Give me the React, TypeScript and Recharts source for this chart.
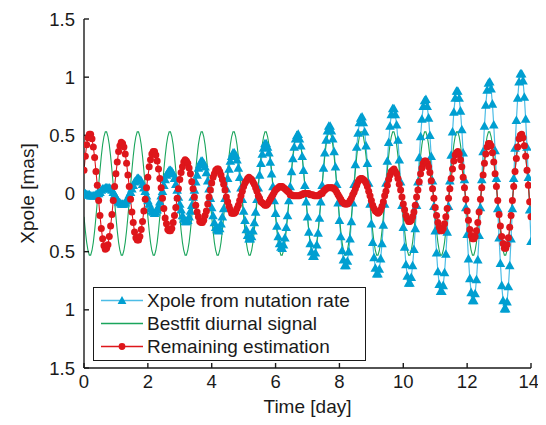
import { LineChart, Line, XAxis, YAxis, Legend, Label } from "recharts";

const FONT = '"Liberation Sans", Arial, Helvetica, sans-serif';
const INK = "#1a1a1a";

// time axis: hourly samples over 14 days
const SAMPLES_PER_DAY = 24;
const X_TICKS = [0, 2, 4, 6, 8, 10, 12, 14];
const Y_TICKS = [-1.5, -1, -0.5, 0, 0.5, 1, 1.5];
const LEGEND_ORDER = ["xpole", "bestfit", "remaining"];

// Xpole from nutation rate [mas], one row per day
const xpoleNutation = [
  0, 0, -0.01, -0.01, -0.01, -0.02, -0.02, -0.02, -0.02, -0.01, 0, 0, 0.01, 0.03, 0.04, 0.04, 0.05, 0.05, 0.05, 0.05, 0.04, 0.03, 0.01, -0.01,
  -0.03, -0.05, -0.07, -0.08, -0.09, -0.09, -0.09, -0.08, -0.06, -0.04, -0.01, 0.01, 0.04, 0.07, 0.1, 0.11, 0.13, 0.13, 0.12, 0.11, 0.08, 0.05, 0.02, -0.02,
  -0.06, -0.09, -0.13, -0.15, -0.16, -0.17, -0.16, -0.14, -0.11, -0.07, -0.02, 0.02, 0.07, 0.12, 0.16, 0.18, 0.2, 0.2, 0.19, 0.17, 0.13, 0.08, 0.03, -0.03,
  -0.09, -0.14, -0.19, -0.22, -0.24, -0.24, -0.23, -0.2, -0.15, -0.1, -0.03, 0.03, 0.1, 0.16, 0.22, 0.25, 0.28, 0.28, 0.26, 0.23, 0.18, 0.11, 0.04, -0.04,
  -0.12, -0.19, -0.25, -0.29, -0.31, -0.32, -0.3, -0.26, -0.2, -0.13, -0.04, 0.04, 0.13, 0.21, 0.28, 0.32, 0.35, 0.35, 0.33, 0.29, 0.22, 0.14, 0.05, -0.05,
  -0.15, -0.23, -0.31, -0.36, -0.39, -0.39, -0.37, -0.32, -0.25, -0.16, -0.05, 0.05, 0.16, 0.26, 0.34, 0.39, 0.43, 0.43, 0.4, 0.35, 0.27, 0.17, 0.06, -0.06,
  -0.17, -0.28, -0.37, -0.43, -0.46, -0.47, -0.44, -0.38, -0.29, -0.19, -0.06, 0.06, 0.19, 0.3, 0.4, 0.47, 0.5, 0.51, 0.47, 0.41, 0.32, 0.2, 0.07, -0.07,
  -0.2, -0.33, -0.43, -0.5, -0.54, -0.54, -0.51, -0.44, -0.34, -0.21, -0.07, 0.07, 0.22, 0.35, 0.46, 0.54, 0.58, 0.58, 0.54, 0.47, 0.36, 0.23, 0.08, -0.08,
  -0.23, -0.37, -0.49, -0.57, -0.62, -0.62, -0.58, -0.5, -0.39, -0.24, -0.08, 0.08, 0.25, 0.4, 0.52, 0.61, 0.65, 0.66, 0.61, 0.53, 0.41, 0.26, 0.09, -0.09,
  -0.26, -0.42, -0.55, -0.64, -0.69, -0.69, -0.65, -0.56, -0.43, -0.27, -0.09, 0.09, 0.28, 0.44, 0.58, 0.68, 0.73, 0.73, 0.68, 0.59, 0.46, 0.29, 0.1, -0.1,
  -0.29, -0.46, -0.61, -0.71, -0.77, -0.77, -0.72, -0.62, -0.48, -0.3, -0.1, 0.1, 0.31, 0.49, 0.64, 0.75, 0.8, 0.81, 0.75, 0.65, 0.5, 0.32, 0.11, -0.11,
  -0.32, -0.51, -0.67, -0.78, -0.84, -0.84, -0.79, -0.68, -0.52, -0.33, -0.11, 0.11, 0.33, 0.53, 0.7, 0.82, 0.88, 0.88, 0.82, 0.71, 0.55, 0.35, 0.12, -0.12,
  -0.35, -0.56, -0.73, -0.85, -0.92, -0.92, -0.86, -0.74, -0.57, -0.36, -0.12, 0.12, 0.36, 0.58, 0.76, 0.89, 0.95, 0.96, 0.9, 0.77, 0.59, 0.37, 0.13, -0.13,
  -0.38, -0.6, -0.79, -0.92, -0.99, -0.99, -0.93, -0.8, -0.62, -0.39, -0.13, 0.13, 0.39, 0.63, 0.82, 0.96, 1.03, 1.03, 0.97, 0.83, 0.64, 0.4, 0.14, -0.14,
  -0.41,
];

// Bestfit diurnal signal [mas]
const bestfitDiurnal = [
  -0.2, -0.32, -0.42, -0.49, -0.53, -0.53, -0.49, -0.42, -0.32, -0.2, -0.07, 0.07, 0.2, 0.32, 0.42, 0.49, 0.53, 0.53, 0.49, 0.42, 0.32, 0.2, 0.07, -0.07,
  -0.2, -0.32, -0.42, -0.49, -0.53, -0.53, -0.49, -0.42, -0.32, -0.2, -0.07, 0.07, 0.2, 0.32, 0.42, 0.49, 0.53, 0.53, 0.49, 0.42, 0.32, 0.2, 0.07, -0.07,
  -0.2, -0.32, -0.42, -0.49, -0.53, -0.53, -0.49, -0.42, -0.32, -0.2, -0.07, 0.07, 0.2, 0.32, 0.42, 0.49, 0.53, 0.53, 0.49, 0.42, 0.32, 0.2, 0.07, -0.07,
  -0.2, -0.32, -0.42, -0.49, -0.53, -0.53, -0.49, -0.42, -0.32, -0.2, -0.07, 0.07, 0.2, 0.32, 0.42, 0.49, 0.53, 0.53, 0.49, 0.42, 0.32, 0.2, 0.07, -0.07,
  -0.2, -0.32, -0.42, -0.49, -0.53, -0.53, -0.49, -0.42, -0.32, -0.2, -0.07, 0.07, 0.2, 0.32, 0.42, 0.49, 0.53, 0.53, 0.49, 0.42, 0.32, 0.2, 0.07, -0.07,
  -0.2, -0.32, -0.42, -0.49, -0.53, -0.53, -0.49, -0.42, -0.32, -0.2, -0.07, 0.07, 0.2, 0.32, 0.42, 0.49, 0.53, 0.53, 0.49, 0.42, 0.32, 0.2, 0.07, -0.07,
  -0.2, -0.32, -0.42, -0.49, -0.53, -0.53, -0.49, -0.42, -0.32, -0.2, -0.07, 0.07, 0.2, 0.32, 0.42, 0.49, 0.53, 0.53, 0.49, 0.42, 0.32, 0.2, 0.07, -0.07,
  -0.2, -0.32, -0.42, -0.49, -0.53, -0.53, -0.49, -0.42, -0.32, -0.2, -0.07, 0.07, 0.2, 0.32, 0.42, 0.49, 0.53, 0.53, 0.49, 0.42, 0.32, 0.2, 0.07, -0.07,
  -0.2, -0.32, -0.42, -0.49, -0.53, -0.53, -0.49, -0.42, -0.32, -0.2, -0.07, 0.07, 0.2, 0.32, 0.42, 0.49, 0.53, 0.53, 0.49, 0.42, 0.32, 0.2, 0.07, -0.07,
  -0.2, -0.32, -0.42, -0.49, -0.53, -0.53, -0.49, -0.42, -0.32, -0.2, -0.07, 0.07, 0.2, 0.32, 0.42, 0.49, 0.53, 0.53, 0.49, 0.42, 0.32, 0.2, 0.07, -0.07,
  -0.2, -0.32, -0.42, -0.49, -0.53, -0.53, -0.49, -0.42, -0.32, -0.2, -0.07, 0.07, 0.2, 0.32, 0.42, 0.49, 0.53, 0.53, 0.49, 0.42, 0.32, 0.2, 0.07, -0.07,
  -0.2, -0.32, -0.42, -0.49, -0.53, -0.53, -0.49, -0.42, -0.32, -0.2, -0.07, 0.07, 0.2, 0.32, 0.42, 0.49, 0.53, 0.53, 0.49, 0.42, 0.32, 0.2, 0.07, -0.07,
  -0.2, -0.32, -0.42, -0.49, -0.53, -0.53, -0.49, -0.42, -0.32, -0.2, -0.07, 0.07, 0.2, 0.32, 0.42, 0.49, 0.53, 0.53, 0.49, 0.42, 0.32, 0.2, 0.07, -0.07,
  -0.2, -0.32, -0.42, -0.49, -0.53, -0.53, -0.49, -0.42, -0.32, -0.2, -0.07, 0.07, 0.2, 0.32, 0.42, 0.49, 0.53, 0.53, 0.49, 0.42, 0.32, 0.2, 0.07, -0.07,
  -0.2,
];

// Remaining estimation [mas]
const remainingEstimation = [
  0.2, 0.32, 0.42, 0.48, 0.51, 0.51, 0.47, 0.4, 0.31, 0.19, 0.07, -0.06, -0.19, -0.3, -0.39, -0.45, -0.48, -0.47, -0.44, -0.37, -0.28, -0.18, -0.06, 0.06,
  0.17, 0.27, 0.36, 0.41, 0.44, 0.43, 0.4, 0.34, 0.26, 0.16, 0.06, -0.05, -0.16, -0.25, -0.33, -0.38, -0.4, -0.4, -0.37, -0.31, -0.24, -0.15, -0.05, 0.05,
  0.14, 0.23, 0.29, 0.34, 0.36, 0.36, 0.33, 0.28, 0.21, 0.13, 0.05, -0.04, -0.13, -0.21, -0.26, -0.31, -0.32, -0.32, -0.3, -0.25, -0.19, -0.12, -0.04, 0.04,
  0.12, 0.18, 0.23, 0.27, 0.29, 0.28, 0.26, 0.22, 0.17, 0.1, 0.04, -0.03, -0.1, -0.16, -0.2, -0.24, -0.25, -0.25, -0.23, -0.19, -0.15, -0.09, -0.03, 0.03,
  0.09, 0.14, 0.17, 0.2, 0.21, 0.21, 0.19, 0.16, 0.12, 0.08, 0.03, -0.03, -0.07, -0.11, -0.14, -0.17, -0.17, -0.17, -0.16, -0.13, -0.1, -0.06, -0.02, 0.02,
  0.06, 0.09, 0.11, 0.13, 0.14, 0.13, 0.12, 0.1, 0.08, 0.05, 0.02, -0.02, -0.04, -0.07, -0.08, -0.09, -0.1, -0.1, -0.09, -0.07, -0.05, -0.03, -0.01, 0.01,
  0.03, 0.04, 0.05, 0.06, 0.06, 0.06, 0.05, 0.04, 0.03, 0.02, 0.01, -0.01, -0.01, -0.02, -0.02, -0.02, -0.02, -0.02, -0.02, -0.01, -0.01, 0, 0, 0,
  0, 0, -0.01, -0.01, -0.01, -0.02, -0.02, -0.02, -0.02, -0.01, 0, 0, 0.02, 0.03, 0.04, 0.05, 0.05, 0.05, 0.05, 0.05, 0.04, 0.03, 0.01, -0.01,
  -0.03, -0.05, -0.07, -0.08, -0.09, -0.09, -0.09, -0.08, -0.06, -0.04, -0.01, 0.01, 0.04, 0.07, 0.1, 0.12, 0.13, 0.13, 0.12, 0.11, 0.09, 0.06, 0.02, -0.02,
  -0.06, -0.1, -0.13, -0.15, -0.16, -0.17, -0.16, -0.14, -0.11, -0.07, -0.02, 0.02, 0.07, 0.12, 0.16, 0.19, 0.2, 0.21, 0.19, 0.17, 0.13, 0.08, 0.03, -0.03,
  -0.09, -0.14, -0.19, -0.22, -0.24, -0.24, -0.23, -0.2, -0.16, -0.1, -0.03, 0.03, 0.1, 0.17, 0.22, 0.26, 0.28, 0.28, 0.26, 0.23, 0.18, 0.11, 0.04, -0.04,
  -0.12, -0.19, -0.25, -0.29, -0.32, -0.32, -0.3, -0.26, -0.2, -0.13, -0.04, 0.04, 0.13, 0.21, 0.28, 0.33, 0.35, 0.36, 0.34, 0.29, 0.23, 0.14, 0.05, -0.05,
  -0.15, -0.23, -0.31, -0.36, -0.39, -0.39, -0.37, -0.32, -0.25, -0.16, -0.05, 0.05, 0.16, 0.26, 0.34, 0.4, 0.43, 0.43, 0.41, 0.35, 0.27, 0.17, 0.06, -0.06,
  -0.18, -0.28, -0.37, -0.43, -0.47, -0.47, -0.44, -0.38, -0.29, -0.19, -0.06, 0.06, 0.19, 0.3, 0.4, 0.47, 0.5, 0.51, 0.48, 0.41, 0.32, 0.2, 0.07, -0.07,
  -0.2,
];

const BLUE_LINE = "#4dbde6";
const BLUE_MARK = "#009fd1";
const GREEN = "#1aa55c";
const RED = "#de161b";

const data = xpoleNutation.map((v, i) => ({
  t: i / SAMPLES_PER_DAY,
  xpole: v,
  bestfit: bestfitDiurnal[i],
  remaining: remainingEstimation[i],
}));

function Triangle({ cx, cy, size, color }: any) {
  return (
    <polygon
      points={`${cx},${cy - size} ${cx - size},${cy + size * 0.78} ${cx + size},${cy + size * 0.78}`}
      fill={color}
    />
  );
}

function TriangleDot(props: any) {
  const { cx, cy, index } = props;
  if (cx == null || cy == null) return <g key={index} />;
  return (
    <g key={index}>
      <Triangle cx={cx} cy={cy} size={4.8} color={BLUE_MARK} />
    </g>
  );
}

// mirrored axes only carry tick marks, no labels
function NoLabel() {
  return <g />;
}

function LegendBox({ payload }: any) {
  const items = [...(payload || [])].sort(
    (a: any, b: any) => LEGEND_ORDER.indexOf(a.dataKey) - LEGEND_ORDER.indexOf(b.dataKey)
  );
  return (
    <div
      style={{
        width: 273,
        height: 74,
        boxSizing: "border-box",
        border: `1.4px solid ${INK}`,
        background: "#fff",
        padding: "1px 0 0 7px",
        fontFamily: FONT,
        fontSize: 19,
        color: INK,
      }}
    >
      {items.map((entry: any) => {
        const key = entry.dataKey;
        const lineColor = key === "xpole" ? BLUE_LINE : key === "bestfit" ? GREEN : RED;
        return (
          <div key={key} style={{ display: "flex", alignItems: "center", height: 23 }}>
            <svg width={42} height={23} style={{ marginRight: 4 }}>
              <line x1={0} y1={11.5} x2={42} y2={11.5} stroke={lineColor} strokeWidth={1.3} />
              {key === "xpole" && <Triangle cx={21} cy={11.5} size={4.4} color={BLUE_MARK} />}
              {key === "remaining" && <circle cx={21} cy={11.5} r={3.4} fill={RED} />}
            </svg>
            <span style={{ lineHeight: "23px", whiteSpace: "nowrap" }}>{entry.value}</span>
          </div>
        );
      })}
    </div>
  );
}

const tickStyle = { fontSize: 18.5, fill: INK, fontFamily: FONT };
const axisStroke = { stroke: INK, strokeWidth: 1.4 };

export default function App() {
  return (
    <div style={{ fontFamily: FONT }}>
      <LineChart
        width={530}
        height={409}
        data={data}
        margin={{ top: 11, right: 7, bottom: 0, left: 0 }}
      >
        <XAxis
          dataKey="t"
          type="number"
          domain={[0, 14]}
          ticks={X_TICKS}
          allowDataOverflow
          height={49}
          tickSize={-5}
          tickMargin={12}
          tick={tickStyle}
          axisLine={axisStroke}
          tickLine={axisStroke}
        >
          <Label
            value="Time [day]"
            position="insideBottom"
            offset={4}
            style={{ fontSize: 19, fill: INK, fontFamily: FONT }}
          />
        </XAxis>
        <XAxis
          xAxisId="top"
          orientation="top"
          dataKey="t"
          type="number"
          domain={[0, 14]}
          ticks={X_TICKS}
          height={0}
          tickSize={-5}
          tick={NoLabel}
          axisLine={axisStroke}
          tickLine={axisStroke}
        />
        <YAxis
          type="number"
          domain={[-1.5, 1.5]}
          ticks={Y_TICKS}
          allowDataOverflow
          width={76}
          tickSize={-5}
          tickMargin={14}
          tick={tickStyle}
          tickFormatter={(v: number) => String(Math.abs(v))}
          axisLine={axisStroke}
          tickLine={axisStroke}
        >
          <Label
            value="Xpole [mas]"
            angle={-90}
            position="center"
            dx={-19}
            style={{ fontSize: 19, fill: INK, fontFamily: FONT }}
          />
        </YAxis>
        <YAxis
          yAxisId="right"
          orientation="right"
          type="number"
          domain={[-1.5, 1.5]}
          ticks={Y_TICKS}
          width={0}
          tickSize={-5}
          tick={NoLabel}
          axisLine={axisStroke}
          tickLine={axisStroke}
        />
        <Line
          dataKey="xpole"
          name="Xpole from nutation rate"
          type="linear"
          stroke={BLUE_LINE}
          strokeWidth={1.2}
          dot={TriangleDot}
          activeDot={false}
          isAnimationActive={false}
        />
        <Line
          dataKey="bestfit"
          name="Bestfit diurnal signal"
          type="linear"
          stroke={GREEN}
          strokeWidth={1.1}
          dot={false}
          activeDot={false}
          isAnimationActive={false}
        />
        <Line
          dataKey="remaining"
          name="Remaining estimation"
          type="linear"
          stroke={RED}
          strokeWidth={1.1}
          dot={{ r: 3.5, fill: RED, stroke: RED, strokeWidth: 0 }}
          activeDot={false}
          isAnimationActive={false}
        />
        <Legend
          layout="horizontal"
          verticalAlign="middle"
          align="center"
          content={<LegendBox />}
          wrapperStyle={{ left: 85, top: 279, width: 273, height: 74 }}
        />
      </LineChart>
    </div>
  );
}
